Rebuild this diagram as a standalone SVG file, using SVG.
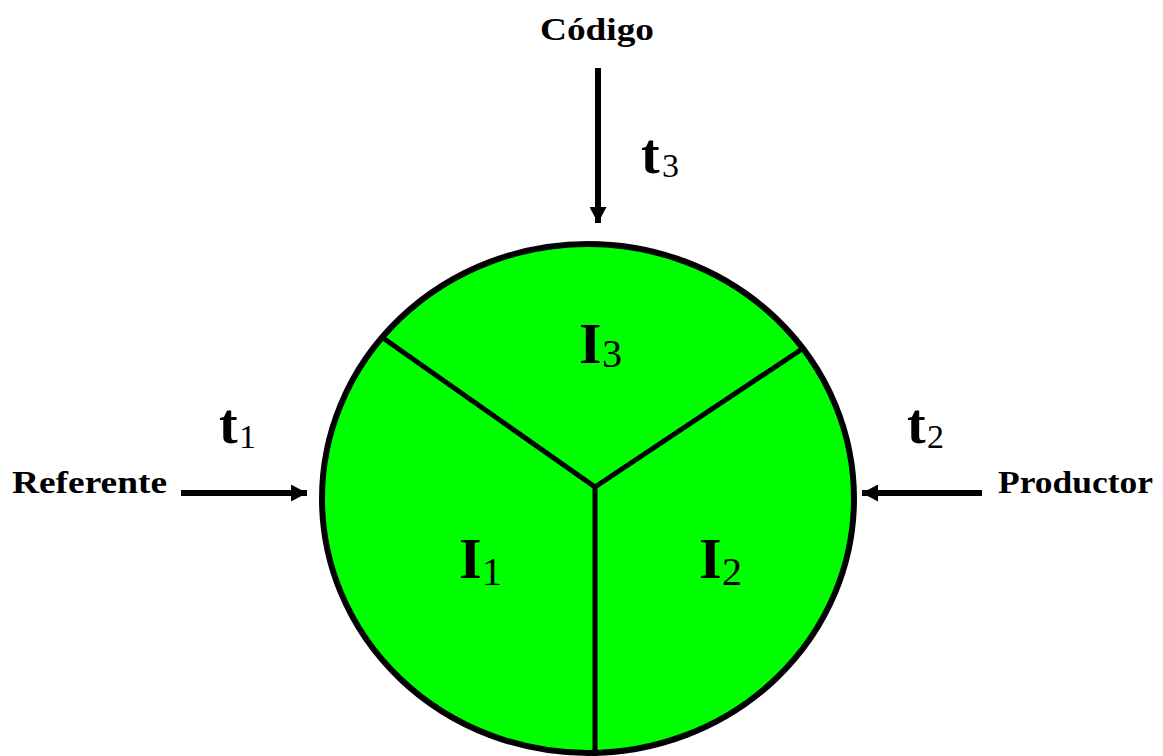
<svg xmlns="http://www.w3.org/2000/svg" width="1163" height="756" viewBox="0 0 1163 756">
<style>
.lbl{font-family:"Liberation Serif","Times New Roman",serif;font-weight:bold;fill:#000}
.big{font-family:"Liberation Serif","Times New Roman",serif;font-weight:bold;fill:#000}
.sub{font-family:"Liberation Serif","Times New Roman",serif;font-weight:normal;fill:#000}
.conn{stroke:#000;stroke-width:6;fill:none}
.div{stroke:#000;stroke-width:5;fill:none}
</style>
<defs>
<marker id="ah" viewBox="0 0 16 17" refX="16" refY="8.5" markerWidth="16" markerHeight="17" markerUnits="userSpaceOnUse" orient="auto">
<path d="M0,0 L16,8.5 L0,17 Z" fill="#000"/>
</marker>
</defs>
<g id="circle">
<ellipse cx="588" cy="498.5" rx="266" ry="254.5" fill="#00ff00" stroke="#000" stroke-width="6"/>
<line class="div" x1="383" y1="338" x2="595" y2="487"/>
<line class="div" x1="802" y1="349" x2="595" y2="487"/>
<line class="div" x1="595" y1="487" x2="595" y2="756"/>
<text class="big" x="579" y="363" font-size="58">I</text>
<text class="sub" x="602" y="367" font-size="40">3</text>
<text class="big" x="459" y="578" font-size="58">I</text>
<text class="sub" x="482" y="585" font-size="40">1</text>
<text class="big" x="699" y="578" font-size="58">I</text>
<text class="sub" x="722" y="585" font-size="40">2</text>
</g>
<g id="codigo">
<text class="lbl" x="540" y="40" font-size="32" textLength="114" lengthAdjust="spacingAndGlyphs">Código</text>
<text class="big" x="641" y="173" font-size="56">t</text>
<text class="sub" x="662" y="177" font-size="34">3</text>
</g>
<g id="referente">
<text class="lbl" x="12" y="493" font-size="32" textLength="155" lengthAdjust="spacingAndGlyphs">Referente</text>
<text class="big" x="219" y="443" font-size="56">t</text>
<text class="sub" x="239" y="448" font-size="34">1</text>
</g>
<g id="productor">
<text class="lbl" x="998" y="493" font-size="32" textLength="155" lengthAdjust="spacingAndGlyphs">Productor</text>
<text class="big" x="907" y="443" font-size="56">t</text>
<text class="sub" x="927" y="448" font-size="34">2</text>
</g>
<g id="connectors">
<line class="conn" x1="181" y1="493" x2="307" y2="493" marker-end="url(#ah)"/>
<line class="conn" x1="982" y1="493" x2="862" y2="493" marker-end="url(#ah)"/>
<line class="conn" x1="598" y1="68" x2="598" y2="223" marker-end="url(#ah)"/>
</g>
</svg>
